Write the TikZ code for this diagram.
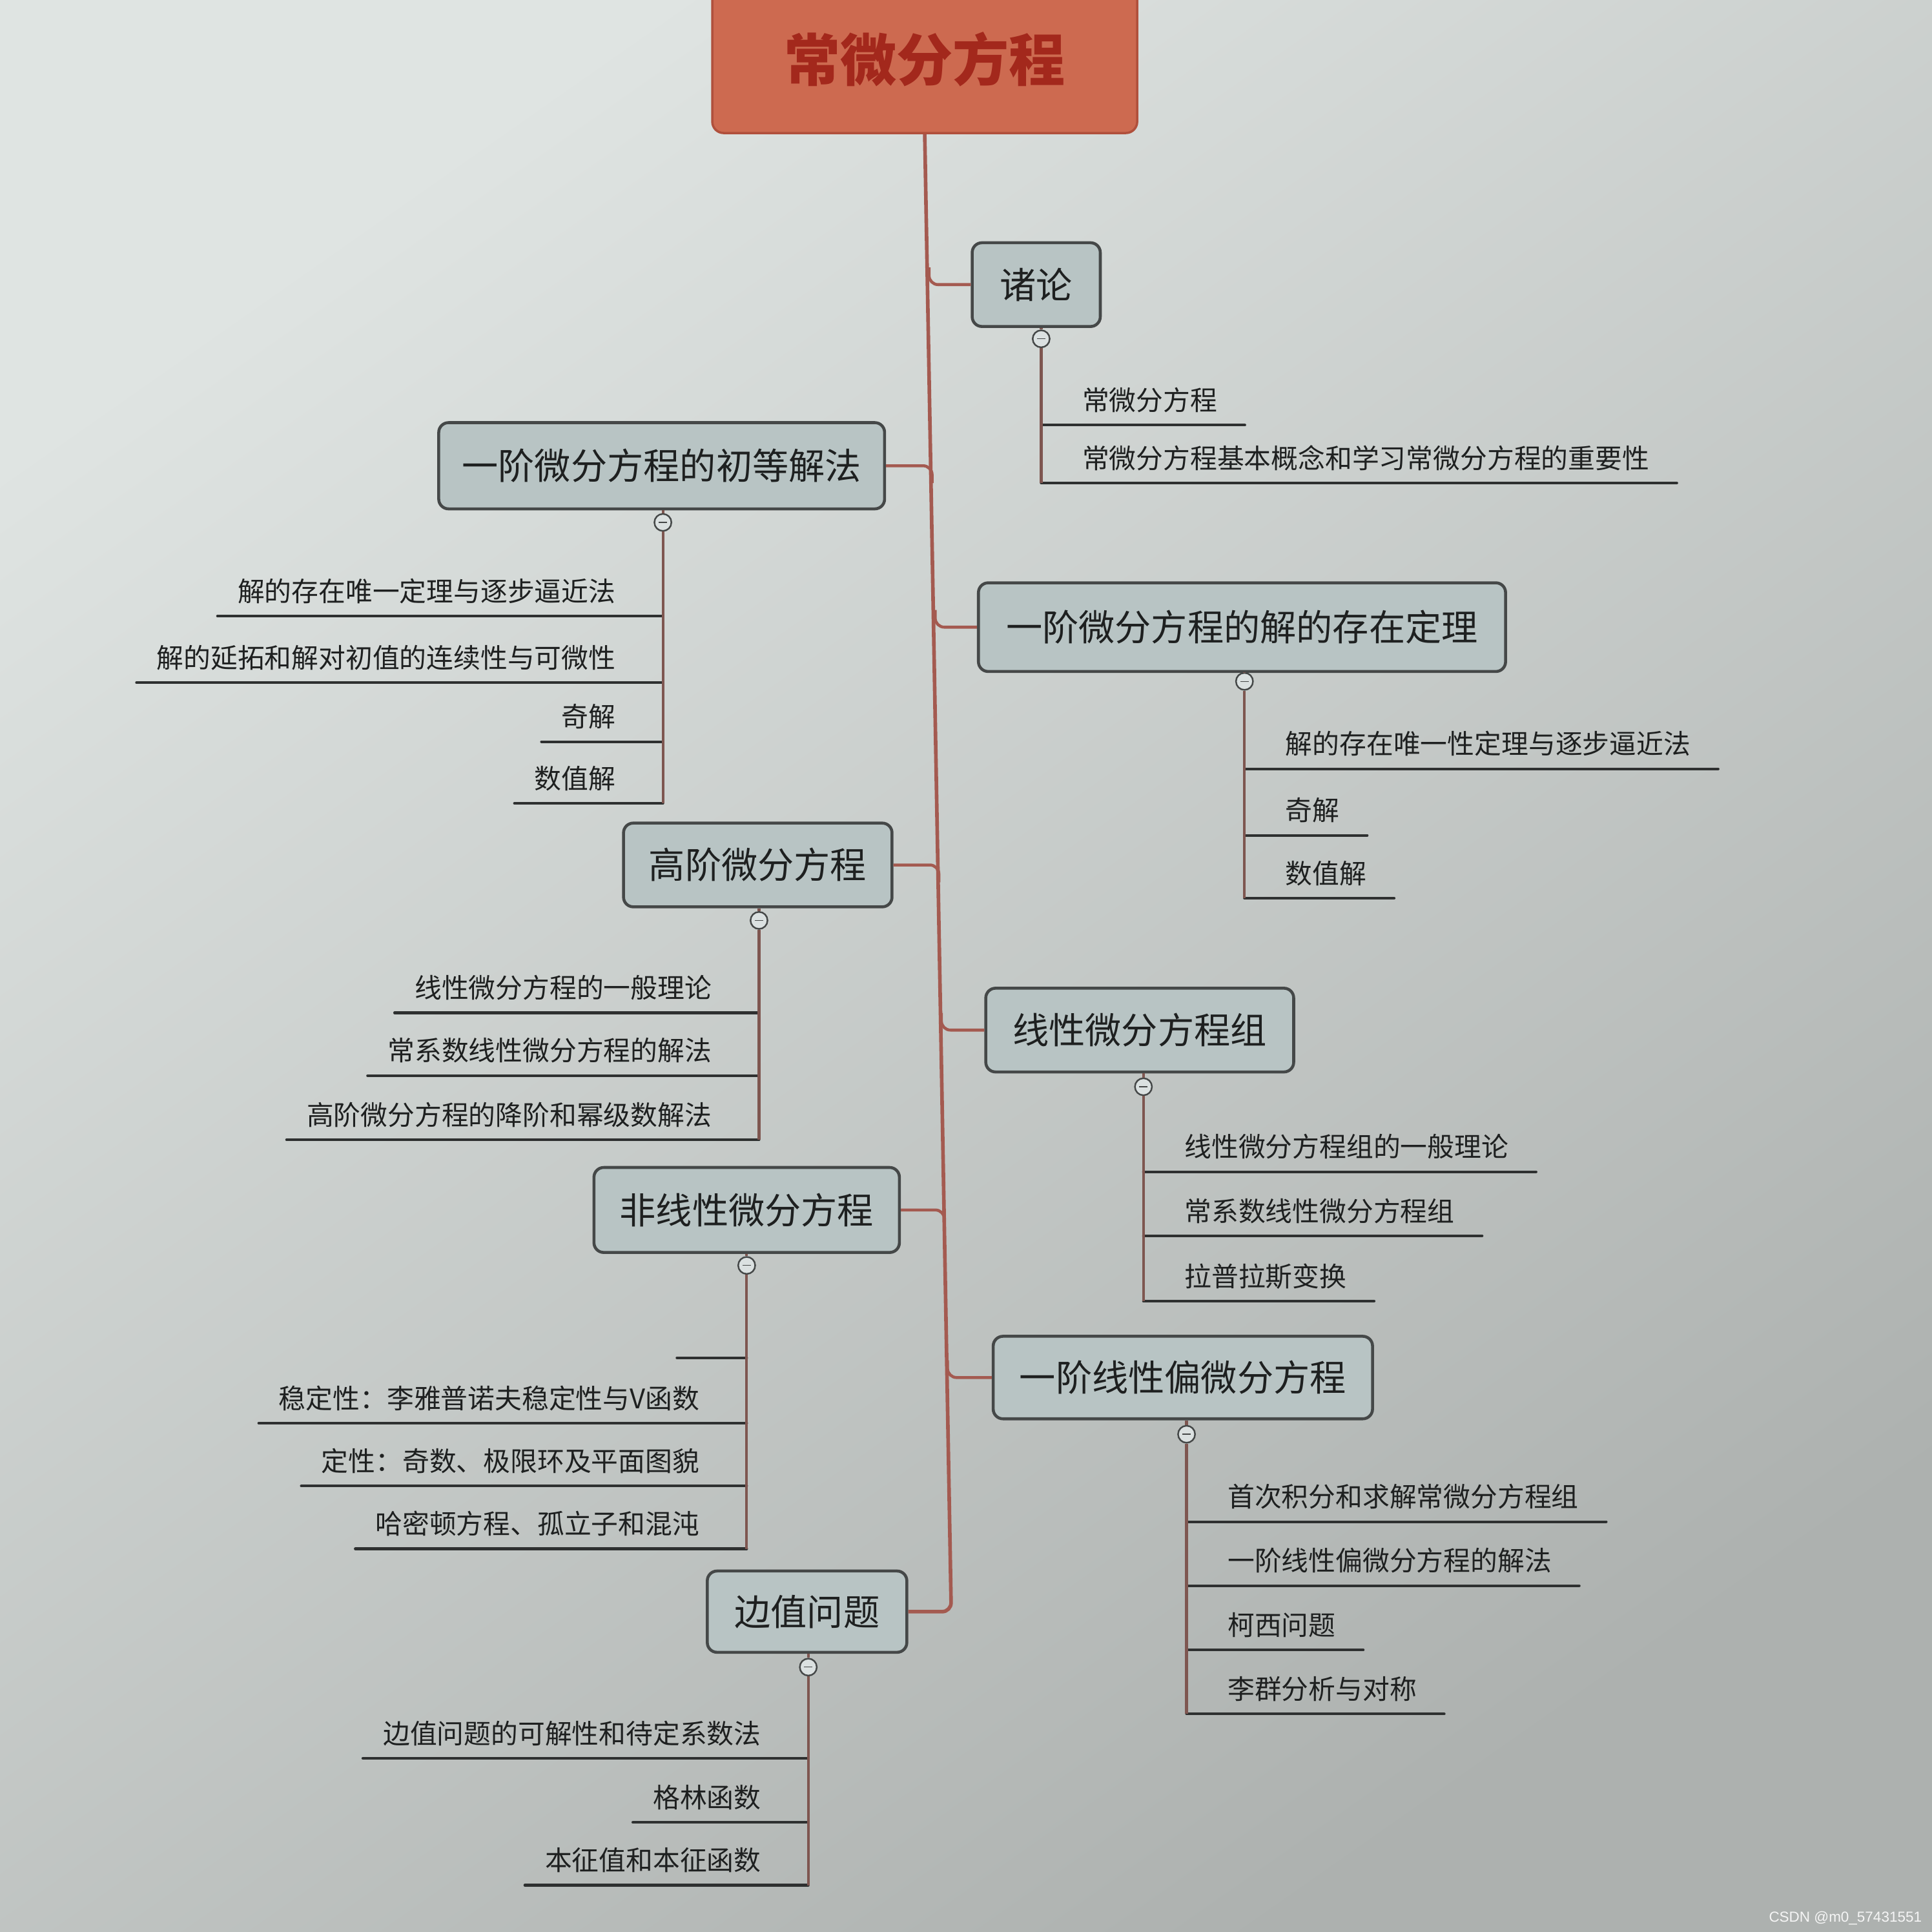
\documentclass[tikz,border=0pt]{standalone}
\usepackage{fontspec}
\setmainfont{Noto Sans CJK SC}
\newfontfamily\wmfont{Liberation Sans}
\usetikzlibrary{calc}
\definecolor{rootfill}{HTML}{CD6A50}
\definecolor{rootdraw}{HTML}{B0503C}
\definecolor{roottext}{HTML}{A3281C}
\definecolor{boxfill}{HTML}{B8C4C4}
\definecolor{boxdraw}{HTML}{454848}
\definecolor{trunkc}{HTML}{A45A50}
\definecolor{spinec}{HTML}{7E5650}
\definecolor{ulinec}{HTML}{2E3030}
\definecolor{textc}{HTML}{1E2020}
\definecolor{bgA}{HTML}{DFE4E2}
\definecolor{bgB}{HTML}{D4DAD7}
\definecolor{bgD}{HTML}{ADB1AF}
\def\uu{0.5429pt}
\tikzset{
  rootbox/.style={draw=rootdraw, fill=rootfill, line width=1pt, rounded corners=5pt,
    text=roottext, font=\fontsize{24.8pt}{28pt}\selectfont\bfseries, inner sep=0pt},
  branch/.style={draw=boxdraw, fill=boxfill, line width=1.3pt, rounded corners=4.3pt,
    text=textc, font=\fontsize{16pt}{19pt}\selectfont, inner sep=0pt},
  collapse/.style={circle, draw=boxdraw, fill=boxfill!50!white, line width=0.7pt,
    minimum size=7.5pt, inner sep=0pt,
    path picture={\draw[line width=0.4pt, boxdraw]
      ([xshift=-1.8pt]path picture bounding box.center) --
      ([xshift=1.8pt]path picture bounding box.center);}},
  ctext/.style={text=textc, font=\fontsize{11.9pt}{14pt}\selectfont, inner sep=0pt},
  trunk/.style={draw=trunkc, line width=1.6pt},
  link/.style={draw=trunkc, line width=1.3pt},
  spine/.style={draw=spinec, line width=1.2pt},
  uline/.style={draw=ulinec, line width=1.2pt, line cap=round},
  wm/.style={text=white!92!gray, font=\wmfont\fontsize{6.4pt}{7pt}\selectfont, inner sep=0pt}
}
% right child: name, spine x, line y, text
\newcommand{\RC}[4]{%
  \node[ctext, anchor=base west] (#1) at (#2+33,#3-12) {#4};
  \coordinate (#1a) at (#2,#3);
  \coordinate (#1b) at ($(#1.base east)+(22,12)$);
  \draw[uline] (#1a) -- (#1b);}
% left child: name, spine x, line y, text
\newcommand{\LC}[4]{%
  \node[ctext, anchor=base east] (#1) at (#2-38,#3-12) {#4};
  \coordinate (#1a) at (#2,#3);
  \coordinate (#1b) at ($(#1.base west)+(-16,12)$);
  \draw[uline] (#1b) -- (#1a);}
% branch box: name, cx, cy, w, h, text
\newcommand{\BR}[6]{%
  \node[branch, minimum width=#4*\uu, minimum height=#5*\uu] (#1) at (#2,#3) {#6};}
\begin{document}
\begin{tikzpicture}[x=0.019082cm, y=-0.019082cm]
\useasboundingbox (0,0) rectangle (1568,1568);
\clip (0,0) rectangle (1568,1568);
\shade[top color=bgA, middle color=bgB, bottom color=bgD, shading angle=35] (0,0) rectangle (1568,1568);

% root
\node[rootbox, minimum width=345*\uu, minimum height=120*\uu] (root) at (750.5,48) {常微分方程};

% branch boxes
\BR{b1}{841}{231}{104}{68}{诸论}
\BR{b2}{537}{378}{362}{70}{一阶微分方程的初等解法}
\BR{b3}{1008}{509}{428}{72}{一阶微分方程的解的存在定理}
\BR{b4}{615}{702}{218}{68}{高阶微分方程}
\BR{b5}{925}{836}{250}{68}{线性微分方程组}
\BR{b6}{606}{982}{248}{69}{非线性微分方程}
\BR{b7}{960}{1118}{308}{67}{一阶线性偏微分方程}
\BR{b8}{655}{1308}{162}{66}{边值问题}

% trunk and branch links
\coordinate (tend) at (772,1308);
\draw[trunk, rounded corners=4pt] (root.south) -- (tend) -- (b8.east);
\coordinate (t1) at (754,231);
\coordinate (t2) at (756.5,378);
\coordinate (t3) at (759,509);
\coordinate (t4) at (762,702);
\coordinate (t5) at (764,836);
\coordinate (t6) at (766.5,982);
\coordinate (t7) at (769,1118);
\draw[link, rounded corners=4pt] ($(t1)+(0,-14)$) -- (t1) -- (b1.west);
\draw[link, rounded corners=4pt] (b2.east) -- (t2) -- ($(t2)+(0,14)$);
\draw[link, rounded corners=4pt] ($(t3)+(0,-14)$) -- (t3) -- (b3.west);
\draw[link, rounded corners=4pt] (b4.east) -- (t4) -- ($(t4)+(0,14)$);
\draw[link, rounded corners=4pt] ($(t5)+(0,-14)$) -- (t5) -- (b5.west);
\draw[link, rounded corners=4pt] (b6.east) -- (t6) -- ($(t6)+(0,14)$);
\draw[link, rounded corners=4pt] ($(t7)+(0,-14)$) -- (t7) -- (b7.west);

% collapse markers
\node[collapse] (k1) at (845,275) {};
\node[collapse] (k2) at (538,424) {};
\node[collapse] (k3) at (1010,553) {};
\node[collapse] (k4) at (616,747) {};
\node[collapse] (k5) at (928,882) {};
\node[collapse] (k6) at (606,1027) {};
\node[collapse] (k7) at (963,1164) {};
\node[collapse] (k8) at (656,1353) {};
\foreach \i in {1,...,8} {\draw[spine] (k\i.north |- b\i.south) -- (k\i.north);}

% children of b1
\RC{c11}{845}{345}{常微分方程}
\RC{c12}{845}{392}{常微分方程基本概念和学习常微分方程的重要性}
\draw[spine] (k1.south) -- (c12a);

% children of b2
\LC{c21}{538}{500}{解的存在唯一定理与逐步逼近法}
\LC{c22}{538}{554}{解的延拓和解对初值的连续性与可微性}
\LC{c23}{538}{602}{奇解}
\LC{c24}{538}{652}{数值解}
\draw[spine] (k2.south) -- (c24a);

% children of b3
\RC{c31}{1010}{624}{解的存在唯一性定理与逐步逼近法}
\RC{c32}{1010}{678}{奇解}
\RC{c33}{1010}{729}{数值解}
\draw[spine] (k3.south) -- (c33a);

% children of b4
\LC{c41}{616}{822}{线性微分方程的一般理论}
\LC{c42}{616}{873}{常系数线性微分方程的解法}
\LC{c43}{616}{925}{高阶微分方程的降阶和幂级数解法}
\draw[spine] (k4.south) -- (c43a);

% children of b5
\RC{c51}{928}{951}{线性微分方程组的一般理论}
\RC{c52}{928}{1003}{常系数线性微分方程组}
\RC{c53}{928}{1056}{拉普拉斯变换}
\draw[spine] (k5.south) -- (c53a);

% children of b6
\LC{c61}{606}{1102}{}
\LC{c62}{606}{1155}{稳定性：李雅普诺夫稳定性与V函数}
\LC{c63}{606}{1206}{定性：奇数、极限环及平面图貌}
\LC{c64}{606}{1257}{哈密顿方程、孤立子和混沌}
\draw[spine] (k6.south) -- (c64a);

% children of b7
\RC{c71}{963}{1235}{首次积分和求解常微分方程组}
\RC{c72}{963}{1287}{一阶线性偏微分方程的解法}
\RC{c73}{963}{1339}{柯西问题}
\RC{c74}{963}{1391}{李群分析与对称}
\draw[spine] (k7.south) -- (c74a);

% children of b8
\LC{c81}{656}{1427}{边值问题的可解性和待定系数法}
\LC{c82}{656}{1479}{格林函数}
\LC{c83}{656}{1530}{本征值和本征函数}
\draw[spine] (k8.south) -- (c83a);

% watermark
\node[wm, anchor=east] (wm) at (1560,1557) {CSDN @m0\_57431551};
\end{tikzpicture}
\end{document}
